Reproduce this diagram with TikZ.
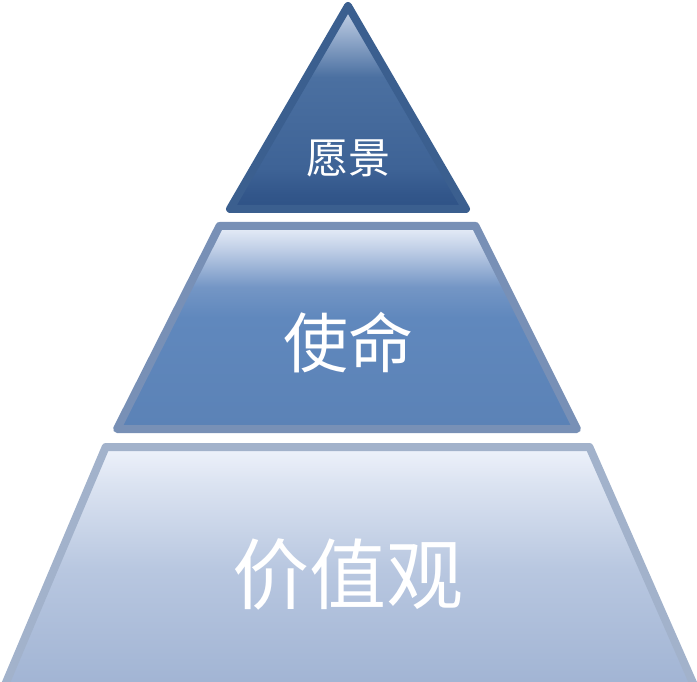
\documentclass[tikz,border=0pt]{standalone}
\usepackage{fontspec}
\newfontfamily\cjk{Noto Sans CJK SC}
\definecolor{topborder}{HTML}{3B5F8F}
\definecolor{midborder}{HTML}{7890B6}
\definecolor{botborder}{HTML}{A2B2CB}
\pgfdeclareverticalshading{topshade}{100bp}{
  color(0bp)=(rgb,255:red,47;green,82;blue,134);
  color(25bp)=(rgb,255:red,47;green,82;blue,134);
  color(28.5bp)=(rgb,255:red,50;green,86;blue,138);
  color(35bp)=(rgb,255:red,62;green,99;blue,150);
  color(57.5bp)=(rgb,255:red,75;green,112;blue,161);
  color(69bp)=(rgb,255:red,159;green,180;blue,210);
  color(75bp)=(rgb,255:red,201;green,213;blue,232);
  color(100bp)=(rgb,255:red,201;green,213;blue,232)}
\pgfdeclareverticalshading{midshade}{100bp}{
  color(0bp)=(rgb,255:red,91;green,130;blue,182);
  color(25bp)=(rgb,255:red,91;green,130;blue,182);
  color(52.5bp)=(rgb,255:red,96;green,136;blue,189);
  color(60bp)=(rgb,255:red,116;green,150;blue,197);
  color(70bp)=(rgb,255:red,197;green,211;blue,233);
  color(75bp)=(rgb,255:red,232;green,238;blue,248);
  color(100bp)=(rgb,255:red,232;green,238;blue,248)}
\pgfdeclareverticalshading{botshade}{100bp}{
  color(0bp)=(rgb,255:red,160;green,179;blue,211);
  color(25bp)=(rgb,255:red,160;green,179;blue,211);
  color(50bp)=(rgb,255:red,184;green,199;blue,224);
  color(67.5bp)=(rgb,255:red,219;green,227;blue,241);
  color(75bp)=(rgb,255:red,238;green,242;blue,251);
  color(100bp)=(rgb,255:red,238;green,242;blue,251)}
\tikzset{
  tier/.style={line width=8pt, line join=round},
  label/.style={text=white, inner sep=0pt, font=\cjk}
}
\begin{document}
\begin{tikzpicture}[x=1pt,y=-1pt]
\useasboundingbox (0,0) rectangle (697,682);
\clip (0,0) rectangle (697,682);
% top triangle
\shade[shading=topshade] (348,6) -- (466,209) -- (230,209) -- cycle;
\draw[tier, topborder] (348,6) -- (466,209) -- (230,209) -- cycle;
% middle trapezoid
\shade[shading=midshade] (219.5,226) -- (475.5,226) -- (577,429) -- (117,429) -- cycle;
\draw[tier, midborder] (219.5,226) -- (475.5,226) -- (577,429) -- (117,429) -- cycle;
% bottom trapezoid
\shade[shading=botshade] (105.7,447) -- (589.4,447) -- (697,692) -- (2,692) -- cycle;
\draw[tier, botborder] (2,692) -- (105.7,447) -- (589.4,447) -- (697,692);
% labels
\node[label, font=\cjk\fontsize{42}{42}\selectfont] (vision) at (348,158) {愿景};
\node[label, font=\cjk\fontsize{65}{65}\selectfont] (mission) at (348,343) {使命};
\node[label, font=\cjk\fontsize{77}{77}\selectfont] (values) at (348,574) {价值观};
\end{tikzpicture}
\end{document}
